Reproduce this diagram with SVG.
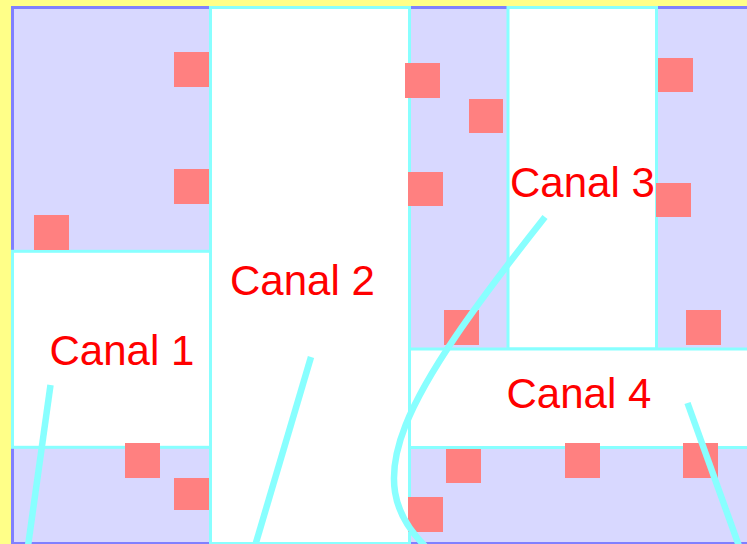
<svg xmlns="http://www.w3.org/2000/svg" width="747" height="544" viewBox="0 0 747 544">
<style>
.canal{fill:#ffffff;stroke:#88ffff;stroke-width:3}
.sq{fill:#ff8080}
.flow{fill:none;stroke:#88ffff;stroke-width:6.5}
.lbl{fill:#ff0000;font-family:"Liberation Sans",Arial,sans-serif;font-size:42px}
</style>
<rect x="0" y="0" width="747" height="544" fill="#ffff88"/>
<rect id="land" x="12.5" y="7.5" width="760" height="536" fill="#d8d8ff" stroke="#8080ff" stroke-width="3"/>
<g id="canal1"><rect class="canal" x="12.5" y="251.3" width="198" height="196"/></g>
<g id="canal2"><rect class="canal" x="210.5" y="7.5" width="199" height="536"/></g>
<g id="canal3"><rect class="canal" x="508" y="7.5" width="148.5" height="341.5"/></g>
<g id="canal4"><rect class="canal" x="409.5" y="349" width="360" height="98.5"/></g>
<g id="blocks">
<rect class="sq" x="174" y="52" width="35" height="35"/>
<rect class="sq" x="174" y="169" width="35" height="35"/>
<rect class="sq" x="34" y="215" width="35" height="35"/>
<rect class="sq" x="405" y="63" width="35" height="35"/>
<rect class="sq" x="469" y="99" width="34" height="34"/>
<rect class="sq" x="408" y="172" width="35" height="34"/>
<rect class="sq" x="658" y="58" width="35" height="34"/>
<rect class="sq" x="656" y="183" width="35" height="34"/>
<rect class="sq" x="444" y="310" width="35" height="35"/>
<rect class="sq" x="686" y="310" width="35" height="35"/>
<rect class="sq" x="446" y="449" width="35" height="34"/>
<rect class="sq" x="565" y="443" width="35" height="35"/>
<rect class="sq" x="683" y="443" width="35" height="35"/>
<rect class="sq" x="408" y="497" width="35" height="35"/>
<rect class="sq" x="125" y="443" width="35" height="35"/>
<rect class="sq" x="174" y="478" width="35" height="32"/>
</g>
<g id="connectors">
<path class="flow" d="M50.5,385 L28,546"/>
<path class="flow" d="M311,357 L255,546"/>
<path class="flow" d="M545,217 C400,400 358,480 425,546"/>
<path class="flow" d="M687.5,403 L739,546"/>
</g>
<g id="labels">
<text class="lbl" x="49.5" y="364.5">Canal 1</text>
<text class="lbl" x="230" y="294.5">Canal 2</text>
<text class="lbl" x="510" y="197">Canal 3</text>
<text class="lbl" x="506.5" y="407.5">Canal 4</text>
</g>
</svg>
